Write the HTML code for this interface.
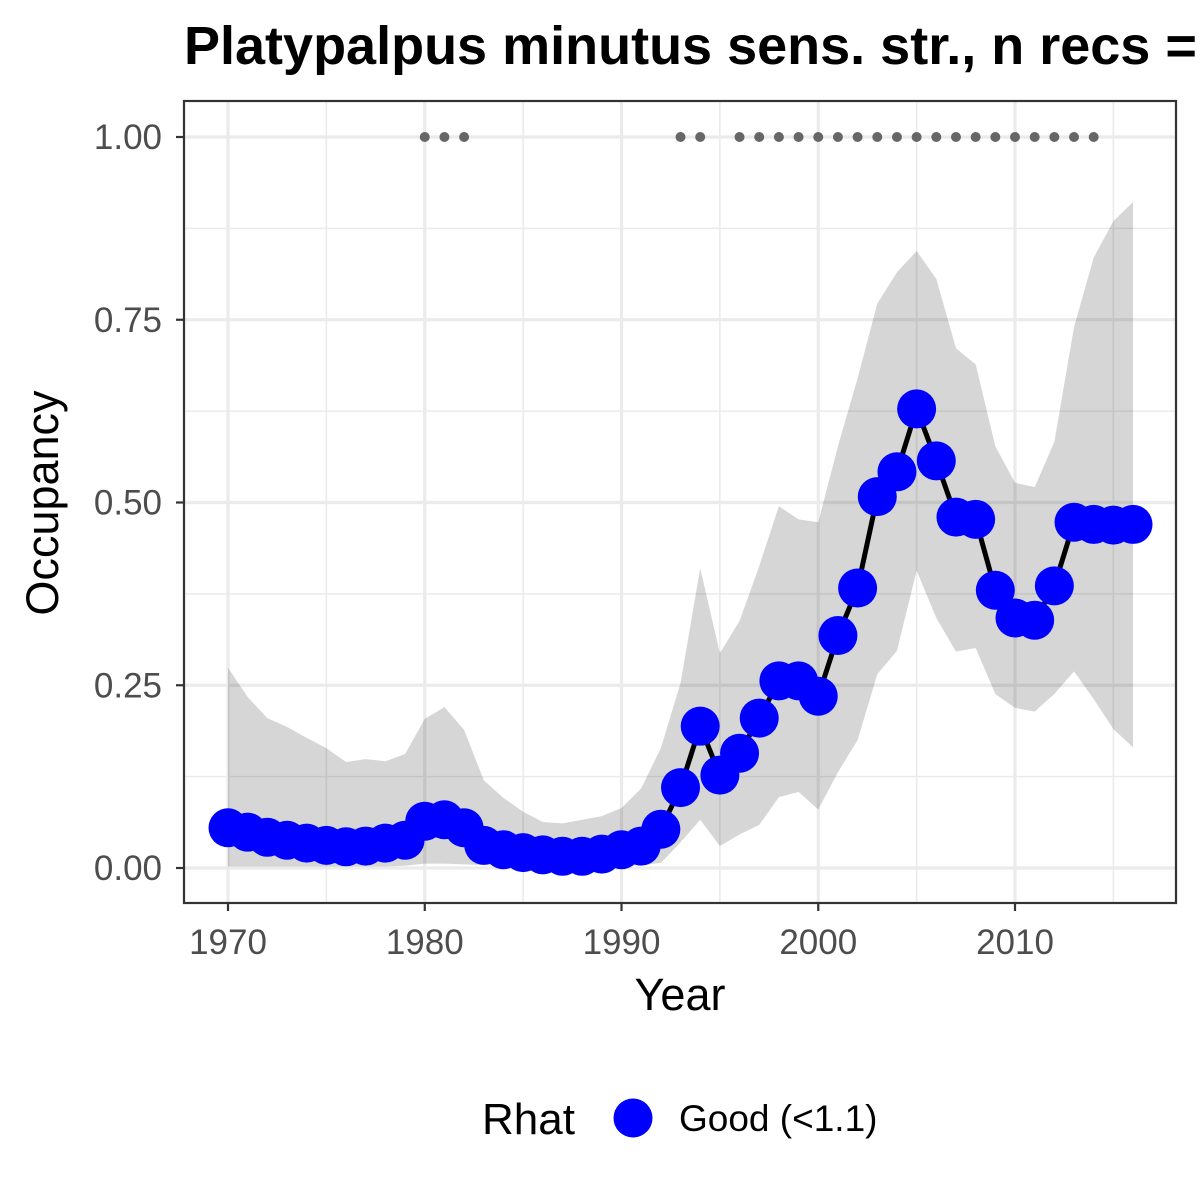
<!DOCTYPE html>
<html><head><meta charset="utf-8"><style>
html,body{margin:0;padding:0;background:#fff;width:1200px;height:1200px;overflow:hidden}
svg text{font-family:"Liberation Sans",Arial,sans-serif}
</style></head><body>
<svg id="chart" width="1200" height="1200" viewBox="0 0 1200 1200" xmlns="http://www.w3.org/2000/svg">
<rect width="1200" height="1200" fill="#fff"/>
<text x="184" y="64" font-size="54" font-weight="bold" fill="#000">Platypalpus minutus sens. str., n recs = 37</text>
<g id="grid"></g>
<g id="ribbon"></g>
<g id="series"></g>
<rect x="184" y="101" width="992" height="802" fill="none" stroke="#333" stroke-width="2.2"/>
<g id="axes"></g>
<text x="680" y="1010" font-size="45" text-anchor="middle" fill="#000">Year</text>
<text transform="translate(58,503) rotate(-90)" font-size="45" text-anchor="middle" fill="#000">Occupancy</text>
<g>
<text x="482" y="1134" font-size="44" fill="#000">Rhat</text>
<circle cx="633" cy="1118" r="19.5" fill="#0000ff"/>
<text x="679" y="1131" font-size="37" fill="#000">Good (&lt;1.1)</text>
</g>
</svg>
<script>
const years = [];
for (let y = 1970; y <= 2016; y++) years.push(y);
const occupancy = [0.055,0.049,0.042,0.038,0.034,0.031,0.029,0.030,0.034,0.038,0.064,0.066,0.055,0.031,0.025,0.021,0.018,0.016,0.016,0.019,0.025,0.030,0.053,0.110,0.194,0.127,0.157,0.205,0.256,0.256,0.235,0.318,0.383,0.508,0.542,0.628,0.557,0.480,0.477,0.380,0.342,0.339,0.386,0.473,0.470,0.469,0.470];
const upperCI = [0.274,0.234,0.205,0.193,0.178,0.164,0.145,0.149,0.146,0.156,0.204,0.220,0.189,0.120,0.096,0.077,0.063,0.061,0.066,0.071,0.082,0.109,0.164,0.253,0.410,0.294,0.338,0.413,0.495,0.477,0.473,0.577,0.670,0.772,0.815,0.844,0.806,0.711,0.689,0.577,0.527,0.521,0.583,0.740,0.835,0.885,0.911];
const lowerCI = [0.002,0.002,0.002,0.002,0.002,0.002,0.002,0.002,0.002,0.003,0.006,0.006,0.005,0.004,0.003,0.002,0.002,0.002,0.002,0.002,0.003,0.004,0.007,0.035,0.066,0.030,0.046,0.059,0.097,0.104,0.080,0.131,0.175,0.265,0.297,0.407,0.342,0.296,0.301,0.238,0.219,0.214,0.238,0.269,0.231,0.190,0.165];
const dataYears = [1980,1981,1982,1993,1994,1996,1997,1998,1999,2000,2001,2002,2003,2004,2005,2006,2007,2008,2009,2010,2011,2012,2013,2014];
const xTicks = [1970,1980,1990,2000,2010];
const xMinor = [1975,1985,1995,2005,2015];
const yTicks = [0,0.25,0.5,0.75,1];
const yTickLabels = ["0.00","0.25","0.50","0.75","1.00"];
const yMinor = [0.125,0.375,0.625,0.875];

const NS = "http://www.w3.org/2000/svg";
const PL = 184, PR = 1176, PT = 101, PB = 903;
function xs(v){ return 228 + (v - 1970) * (1015 - 228) / 40; }
function ys(v){ return 868 - v * 731; }
function mk(tag, attrs, parent){ const e = document.createElementNS(NS, tag); for (const k in attrs) e.setAttribute(k, attrs[k]); parent.appendChild(e); return e; }

const grid = document.getElementById('grid');
yMinor.forEach(v => {
  const l = mk('line', {x1:PL, x2:PR, y1:ys(v), y2:ys(v), stroke:'#ebebeb', 'stroke-width':1.6}, grid);
  
  
});
xMinor.forEach(v => {
  const l = mk('line', {x1:xs(v), x2:xs(v), y1:PT, y2:PB, stroke:'#ebebeb', 'stroke-width':1.6}, grid);
  
  
});
yTicks.forEach(v => {
  const l = mk('line', {x1:PL, x2:PR, y1:ys(v), y2:ys(v), stroke:'#ebebeb', 'stroke-width':3.2}, grid);
  
  
});
xTicks.forEach(v => {
  const l = mk('line', {x1:xs(v), x2:xs(v), y1:PT, y2:PB, stroke:'#ebebeb', 'stroke-width':3.2}, grid);
  
  
});

const rib = document.getElementById('ribbon');
let d = '';
years.forEach((y,i) => { d += (i ? 'L' : 'M') + xs(y) + ',' + ys(upperCI[i]); });
for (let i = years.length - 1; i >= 0; i--) d += 'L' + xs(years[i]) + ',' + ys(lowerCI[i]);
d += 'Z';
const rp = mk('path', {d:d, fill:'#000', 'fill-opacity':0.16}, rib);



const ser = document.getElementById('series');
dataYears.forEach(y => {
  const c = mk('circle', {cx:xs(y), cy:ys(1), r:5, fill:'#666'}, ser);
  
  
});
const line = mk('polyline', {points: years.map((y,i) => xs(y) + ',' + ys(occupancy[i])).join(' '), fill:'none', stroke:'#000', 'stroke-width':5}, ser);


years.forEach((y,i) => {
  const c = mk('circle', {cx:xs(y), cy:ys(occupancy[i]), r:19.5, fill:'#0000ff'}, ser);
  
  
});

const ax = document.getElementById('axes');
xTicks.forEach(v => {
  const t = mk('line', {x1:xs(v), x2:xs(v), y1:PB, y2:PB + 8, stroke:'#333', 'stroke-width':2.2}, ax);
  
  
  const tx = mk('text', {x:xs(v), y:954, 'font-size':35, 'text-anchor':'middle', fill:'#4d4d4d'}, ax);
  tx.textContent = v;
  
  
});
yTicks.forEach((v,i) => {
  const t = mk('line', {x1:PL - 8, x2:PL, y1:ys(v), y2:ys(v), stroke:'#333', 'stroke-width':2.2}, ax);
  
  
  const tx = mk('text', {x:PL - 22, y:ys(v) + 12, 'font-size':35, 'text-anchor':'end', fill:'#4d4d4d'}, ax);
  tx.textContent = yTickLabels[i];
  
  
});
</script>
</body></html>
